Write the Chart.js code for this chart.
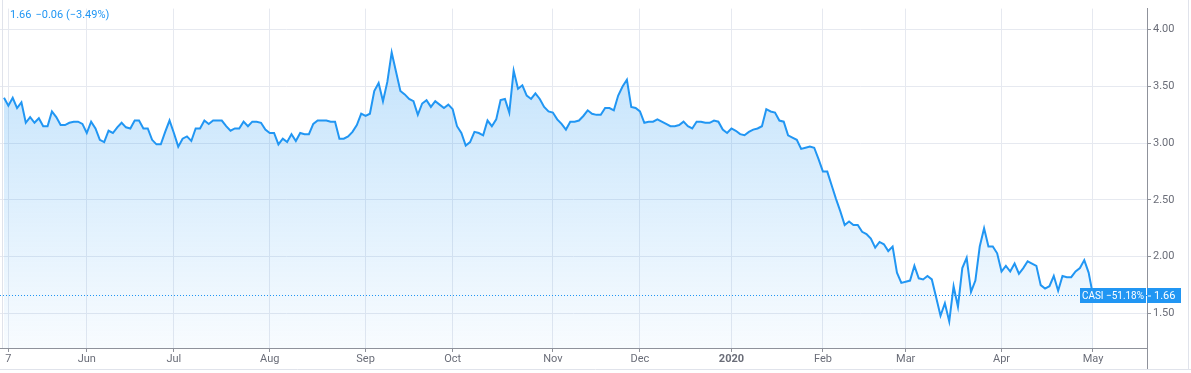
<!DOCTYPE html>
<html>
<head>
<meta charset="utf-8">
<script src="https://cdn.jsdelivr.net/npm/chart.js@4"></script>
<style>
  html, body { margin: 0; padding: 0; background: #fff; }
  #wrap { position: relative; width: 1191px; height: 373px; }
  #legend {
    position: absolute; left: 10px; top: 8px;
    font: 11px Roboto, "Noto Sans", sans-serif; color: #2196f3;
    white-space: pre;
  }
  #legend span { margin-left: 4px; }
</style>
</head>
<body>
<div id="wrap">
  <canvas id="chart" width="1191" height="373"></canvas>
  <div id="legend">1.66<span>−0.06 (−3.49%)</span></div>
</div>
<script>
// daily closes, May 6 2019 .. May 1 2020
const closes = [
  3.40, 3.33, 3.40, 3.31, 3.36, 3.18, 3.23, 3.18, 3.22, 3.15,
  3.15, 3.28, 3.23, 3.16, 3.16, 3.18, 3.19, 3.19, 3.17, 3.09,
  3.19, 3.13, 3.03, 3.01, 3.11, 3.09, 3.14, 3.18, 3.14, 3.13,
  3.20, 3.20, 3.13, 3.13, 3.03, 2.99, 2.99, 3.10, 3.20, 3.09,
  2.97, 3.04, 3.06, 3.02, 3.13, 3.13, 3.20, 3.17, 3.20, 3.20,
  3.20, 3.15, 3.11, 3.13, 3.13, 3.19, 3.15, 3.19, 3.19, 3.18,
  3.12, 3.09, 3.09, 2.99, 3.04, 3.01, 3.08, 3.02, 3.09, 3.08,
  3.08, 3.17, 3.20, 3.20, 3.20, 3.19, 3.19, 3.04, 3.04, 3.06,
  3.10, 3.16, 3.26, 3.24, 3.26, 3.46, 3.53, 3.37, 3.54, 3.80,
  3.63, 3.46, 3.43, 3.39, 3.37, 3.25, 3.35, 3.38, 3.32, 3.37,
  3.34, 3.31, 3.34, 3.30, 3.15, 3.09, 2.98, 3.01, 3.10, 3.09,
  3.07, 3.20, 3.15, 3.21, 3.38, 3.39, 3.27, 3.64, 3.48, 3.51,
  3.42, 3.39, 3.44, 3.39, 3.32, 3.28, 3.27, 3.21, 3.17, 3.12,
  3.19, 3.19, 3.20, 3.24, 3.29, 3.26, 3.25, 3.25, 3.31, 3.31,
  3.29, 3.42, 3.50, 3.56, 3.32, 3.31, 3.28, 3.18, 3.19, 3.19,
  3.21, 3.19, 3.17, 3.15, 3.15, 3.16, 3.19, 3.15, 3.13, 3.19,
  3.19, 3.18, 3.18, 3.20, 3.19, 3.12, 3.09, 3.13, 3.11, 3.08,
  3.07, 3.10, 3.12, 3.13, 3.15, 3.30, 3.28, 3.27, 3.20, 3.19,
  3.07, 3.05, 3.03, 2.95, 2.96, 2.97, 2.96, 2.86, 2.75, 2.75,
  2.63, 2.51, 2.40, 2.28, 2.31, 2.28, 2.28, 2.22, 2.20, 2.16,
  2.08, 2.13, 2.11, 2.05, 2.09, 1.86, 1.77, 1.78, 1.79, 1.92,
  1.81, 1.80, 1.83, 1.80, 1.64, 1.48, 1.59, 1.43, 1.74, 1.56,
  1.90, 1.99, 1.69, 1.79, 2.09, 2.25, 2.09, 2.09, 2.03, 1.87,
  1.92, 1.87, 1.94, 1.85, 1.90, 1.96, 1.94, 1.92, 1.75, 1.72,
  1.74, 1.83, 1.70, 1.83, 1.82, 1.82, 1.87, 1.90, 1.97, 1.86,
  1.66
]

// bar index of each time-scale label
const tickIndex = [1, 19, 39, 61, 83, 103, 126, 146, 167, 188, 207, 229, 250]
const tickLabels = ['7', 'Jun', 'Jul', 'Aug', 'Sep', 'Oct', 'Nov', 'Dec', '2020', 'Feb', 'Mar', 'Apr', 'May']
const priceTicks = [1.5, 2.0, 2.5, 3.0, 3.5, 4.0]

const symbol = 'CASI'
const totalChange = '−51.18%'

const blue = '#2196f3'
const axisColor = '#8f929b'
const gridColor = '#e6e9f0'
const textColor = '#6a6d78'
const font = { family: 'Roboto, "Noto Sans", sans-serif', size: 11 }

const lastPrice = closes[closes.length - 1]

const pricePlugin = {
  id: 'priceLine',
  afterDraw(chart) {
    const { ctx, chartArea, scales } = chart
    const y = Math.round(scales.y.getPixelForValue(lastPrice)) + 0.5
    ctx.save()
    ctx.strokeStyle = blue
    ctx.lineWidth = 1
    ctx.setLineDash([1, 2])
    ctx.beginPath()
    ctx.moveTo(chartArea.left, y)
    ctx.lineTo(chartArea.right, y)
    ctx.stroke()
    ctx.setLineDash([])

    ctx.font = `${font.size}px ${font.family}`
    ctx.textBaseline = 'middle'
    const h = 15
    const leftText = `${symbol} ${totalChange}`
    const lw = 66
    ctx.fillStyle = blue
    ctx.fillRect(chartArea.right - lw - 1, y - h / 2, lw, h)
    ctx.fillRect(chartArea.right, y - h / 2, 34, h)
    ctx.fillStyle = '#fff'
    ctx.textAlign = 'center'
    ctx.fillText(leftText, chartArea.right - 1 - lw / 2, y + 0.5, lw - 4)
    ctx.textAlign = 'left'
    ctx.fillText(lastPrice.toFixed(2), chartArea.right + 7, y + 0.5)
    ctx.fillRect(chartArea.right + 1, y, 3, 1)

    // frame
    ctx.strokeStyle = axisColor
    ctx.beginPath()
    ctx.moveTo(chartArea.right + 0.5, chartArea.bottom)
    ctx.lineTo(chartArea.right + 0.5, 370)
    ctx.stroke()
    ctx.strokeStyle = '#e0e3eb'
    ctx.beginPath()
    ctx.moveTo(0, 369.5)
    ctx.lineTo(1191, 369.5)
    ctx.moveTo(1188.5, 0)
    ctx.lineTo(1188.5, 370)
    ctx.moveTo(2.5, 0)
    ctx.lineTo(2.5, chartArea.bottom)
    ctx.stroke()
    ctx.restore()
  }
}

new Chart(document.getElementById('chart'), {
  type: 'line',
  data: {
    datasets: [{
      data: closes.map((v, i) => ({ x: i, y: v })),
      borderColor: blue,
      borderWidth: 2,
      pointRadius: 0,
      tension: 0,
      fill: 'start',
      backgroundColor: (context) => {
        const area = context.chart.chartArea
        if (!area) return 'rgba(33,150,243,0.15)'
        const g = context.chart.ctx.createLinearGradient(0, area.top, 0, area.bottom)
        g.addColorStop(0, 'rgba(33,150,243,0.30)')
        g.addColorStop(1, 'rgba(33,150,243,0.03)')
        return g
      }
    }]
  },
  options: {
    responsive: false,
    animation: false,
    layout: { padding: 0 },
    plugins: { legend: { display: false }, tooltip: { enabled: false } },
    scales: {
      x: {
        type: 'linear',
        min: -0.92,
        max: 262.4,
        afterBuildTicks: (scale) => { scale.ticks = tickIndex.map((value) => ({ value })) },
        afterFit: (scale) => { scale.height = 25 },
        grid: { color: gridColor, tickColor: axisColor, tickLength: 4 },
        border: { display: true, color: axisColor },
        ticks: {
          autoSkip: false,
          maxRotation: 0,
          padding: 1,
          color: textColor,
          font: (c) => ({ ...font, weight: c.tick && c.tick.value === 167 ? 'bold' : 'normal' }),
          callback: (value) => tickLabels[tickIndex.indexOf(value)] ?? ''
        }
      },
      y: {
        position: 'right',
        min: 1.196,
        max: 4.186,
        afterBuildTicks: (scale) => { scale.ticks = priceTicks.map((value) => ({ value })) },
        afterFit: (scale) => { scale.width = 44 },
        grid: { color: gridColor, tickColor: axisColor, tickLength: 4 },
        border: { display: true, color: axisColor },
        ticks: {
          padding: 2,
          color: textColor,
          font,
          callback: (value) => value.toFixed(2)
        }
      }
    }
  },
  plugins: [pricePlugin]
})
</script>
</body>
</html>
